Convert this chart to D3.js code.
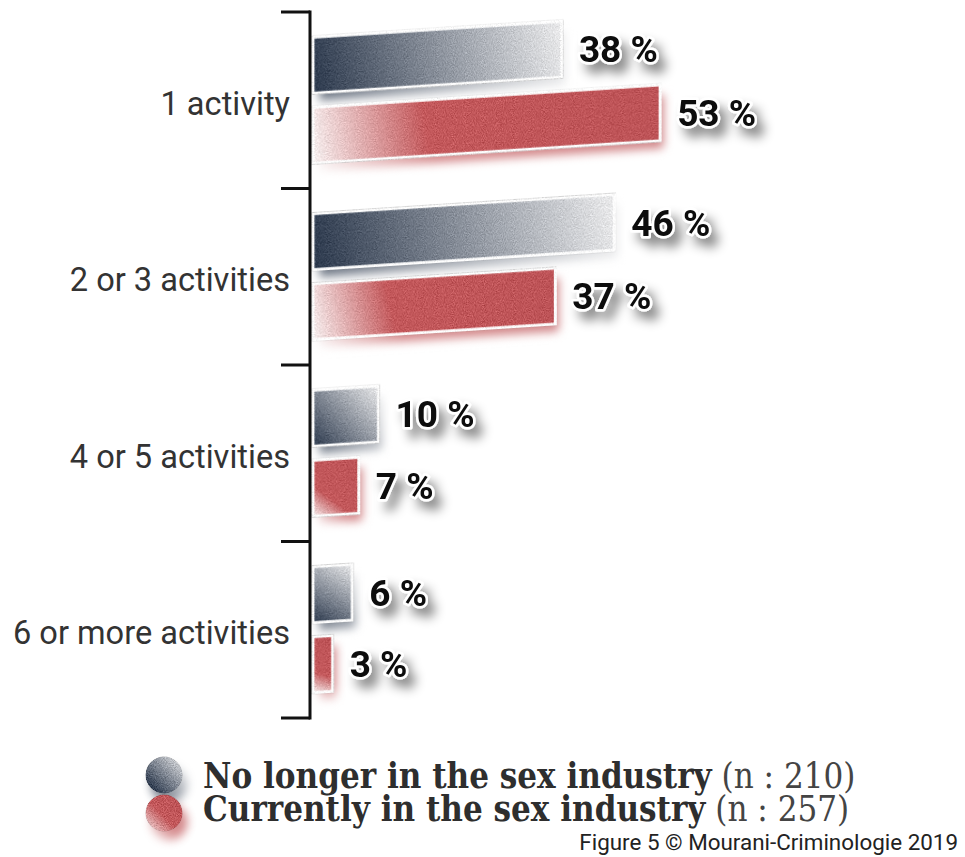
<!DOCTYPE html>
<html>
<head>
<meta charset="utf-8">
<script src="https://cdn.jsdelivr.net/npm/d3@7"></script>
<style>
  html, body { margin: 0; padding: 0; background: #fff; }
  svg { display: block; }
</style>
</head>
<body>
<script>
// Number of sex-industry activities, by current status
const categories = ["1 activity", "2 or 3 activities", "4 or 5 activities", "6 or more activities"];
const seriesKeys = ["noLonger", "currently"];
const seriesLabels = ["No longer in the sex industry", "Currently in the sex industry"];
const seriesCounts = ["(n : 210)", "(n : 257)"];
const noLongerValues = [38, 46, 10, 6];
const currentlyValues = [53, 37, 7, 3];
const credit = "Figure 5 © Mourani-Criminologie 2019";

const W = 965, H = 857;
const axisX = 310;
const barX0 = 313;
const skewDeg = -3.7;
const tanSkew = Math.tan(skewDeg * Math.PI / 180);

const rows = categories.map((c, i) => ({
  category: c,
  noLonger: noLongerValues[i],
  currently: currentlyValues[i]
}));

const svg = d3.select("body").append("svg").attr("width", W).attr("height", H);
const defs = svg.append("defs");

const y = d3.scaleBand().domain(categories).range([12, 718]).padding(0);
const yInner = d3.scaleBand().domain(seriesKeys).range([0, y.bandwidth()])
  .paddingInner(0.2).paddingOuter(0.36);
const x = d3.scaleLinear().domain([0, 60]).range([barX0, barX0 + 393]);

const palette = {
  noLonger: [{o: 0, c: "#2b384c"}, {o: 1, c: "#ebebec"}],
  currently: [{o: 0, c: "#f7f1f1"}, {o: 0.33, c: "#c3585b"}, {o: 1, c: "#bd5357"}]
};

// Grainy fill plus a soft coloured shadow cast from the shape itself
const fx = defs.append("filter").attr("id", "barFx")
  .attr("filterUnits", "userSpaceOnUse")
  .attr("x", -60).attr("y", -120).attr("width", 1150).attr("height", 1150)
  .attr("color-interpolation-filters", "sRGB");
fx.append("feGaussianBlur").attr("in", "SourceGraphic").attr("stdDeviation", 5).attr("result", "blur");
fx.append("feOffset").attr("in", "blur").attr("dx", 5).attr("dy", 9).attr("result", "off");
fx.append("feComponentTransfer").attr("in", "off").attr("result", "shadow")
  .append("feFuncA").attr("type", "linear").attr("slope", 0.7);
fx.append("feTurbulence").attr("type", "fractalNoise").attr("baseFrequency", 0.9)
  .attr("numOctaves", 2).attr("seed", 7).attr("result", "noise");
fx.append("feColorMatrix").attr("in", "noise").attr("type", "matrix")
  .attr("values", "1 0 0 0 0  1 0 0 0 0  1 0 0 0 0  0 0 0 0 1").attr("result", "gnoise");
fx.append("feComposite").attr("in", "SourceGraphic").attr("in2", "gnoise")
  .attr("operator", "arithmetic").attr("k1", 0).attr("k2", 1).attr("k3", 0.34).attr("k4", -0.17)
  .attr("result", "grained");
fx.append("feComposite").attr("in", "grained").attr("in2", "SourceAlpha")
  .attr("operator", "in").attr("result", "grainClip");
const fxm = fx.append("feMerge");
fxm.append("feMergeNode").attr("in", "shadow");
fxm.append("feMergeNode").attr("in", "grainClip");

// Shadow for the value labels
const tfx = defs.append("filter").attr("id", "labelFx")
  .attr("x", "-30%").attr("y", "-50%").attr("width", "180%").attr("height", "220%");
tfx.append("feDropShadow").attr("dx", 7).attr("dy", 9).attr("stdDeviation", 5.5)
  .attr("flood-color", "#000").attr("flood-opacity", 0.45);

// One gradient per bar, running from the lower-left to the upper-right corner
const bars = [];
rows.forEach((r, i) => {
  seriesKeys.forEach(k => {
    const top = y(r.category) + yInner(k);
    const h = yInner.bandwidth();
    bars.push({ id: `g-${i}-${k}`, key: k, value: r[k], category: r.category,
      x: barX0, y: top, w: x(r[k]) - barX0, h });
  });
});

bars.forEach(b => {
  const g = defs.append("linearGradient").attr("id", b.id)
    .attr("gradientUnits", "userSpaceOnUse")
    .attr("x1", b.x).attr("y1", b.y + b.h)
    .attr("x2", b.x + b.w).attr("y2", b.y);
  palette[b.key].forEach(s => g.append("stop").attr("offset", s.o).attr("stop-color", s.c));
});

// Bars, slanted slightly upward
const barLayer = svg.append("g")
  .attr("transform", `translate(${barX0},0) skewY(${skewDeg}) translate(${-barX0},0)`);
barLayer.selectAll("rect").data(bars).join("rect")
  .attr("x", d => d.x).attr("y", d => d.y)
  .attr("width", d => d.w).attr("height", d => d.h)
  .attr("fill", d => `url(#${d.id})`)
  .attr("stroke", "#fff").attr("stroke-width", 3)
  .attr("filter", "url(#barFx)");

// Axis with ticks at the category boundaries
const axis = svg.append("g");
const bounds = categories.map(c => y(c)).concat([y(categories[categories.length - 1]) + y.bandwidth()]);
axis.append("line")
  .attr("x1", axisX).attr("x2", axisX)
  .attr("y1", bounds[0] - 1.5).attr("y2", bounds[bounds.length - 1] + 1.5)
  .attr("stroke", "#111").attr("stroke-width", 3);
axis.selectAll("line.tick").data(bounds).join("line").attr("class", "tick")
  .attr("x1", axisX - 29).attr("x2", axisX)
  .attr("y1", d => d).attr("y2", d => d)
  .attr("stroke", "#111").attr("stroke-width", 3);

axis.selectAll("text.cat").data(categories).join("text").attr("class", "cat")
  .attr("x", 290)
  .attr("y", d => y(d) + y.bandwidth() / 2 + 3)
  .attr("dy", "0.35em")
  .attr("text-anchor", "end")
  .attr("font-family", "Roboto, 'Noto Sans', sans-serif")
  .attr("font-size", 32.6)
  .attr("fill", "#333")
  .text(d => d);

// Value labels at the end of each slanted bar
svg.append("g").selectAll("text").data(bars).join("text")
  .attr("x", d => x(d.value) + 17)
  .attr("y", d => d.y + d.h / 2 + (x(d.value) - barX0) * tanSkew)
  .attr("dy", "0.36em")
  .attr("font-family", "Roboto, sans-serif")
  .attr("font-weight", 700)
  .attr("font-size", 37)
  .attr("fill", "#0a0a0a")
  .attr("stroke", "#fff").attr("stroke-width", 5)
  .attr("paint-order", "stroke")
  .attr("stroke-linejoin", "round")
  .attr("filter", "url(#labelFx)")
  .text(d => `${d.value} %`);

// Legend
const legendY = [775, 813];
seriesKeys.forEach(k => {
  const g = defs.append("linearGradient").attr("id", `lg-${k}`)
    .attr("x1", 0).attr("y1", 1).attr("x2", 1).attr("y2", 0);
  const stops = k === "noLonger"
    ? [{o: 0.15, c: "#2b384c"}, {o: 1, c: "#ebebec"}]
    : [{o: 0, c: "#f3e6e6"}, {o: 0.45, c: "#c3585b"}, {o: 1, c: "#bd5357"}];
  stops.forEach(s => g.append("stop").attr("offset", s.o).attr("stop-color", s.c));
});
const legend = svg.append("g");
legend.selectAll("circle").data(seriesKeys).join("circle")
  .attr("cx", 164).attr("cy", (d, i) => legendY[i]).attr("r", 18.5)
  .attr("fill", d => `url(#lg-${d})`)
  .attr("filter", "url(#barFx)");
const lt = legend.selectAll("text").data(seriesKeys).join("text")
  .attr("x", 203).attr("y", (d, i) => legendY[i] + 13 - i * 5)
  .attr("font-family", "'DejaVu Serif', serif")
  .attr("font-stretch", "condensed")
  .attr("font-size", 34.6)
  .attr("fill", "#2e2e2e");
lt.append("tspan").attr("font-weight", 700).text((d, i) => seriesLabels[i]);
lt.append("tspan").attr("font-weight", 400).attr("fill", "#444").text((d, i) => " " + seriesCounts[i]);

svg.append("text")
  .attr("x", 958).attr("y", 850)
  .attr("text-anchor", "end")
  .attr("font-family", "Roboto, sans-serif")
  .attr("font-size", 22.4)
  .attr("fill", "#222")
  .text(credit);
</script>
</body>
</html>
